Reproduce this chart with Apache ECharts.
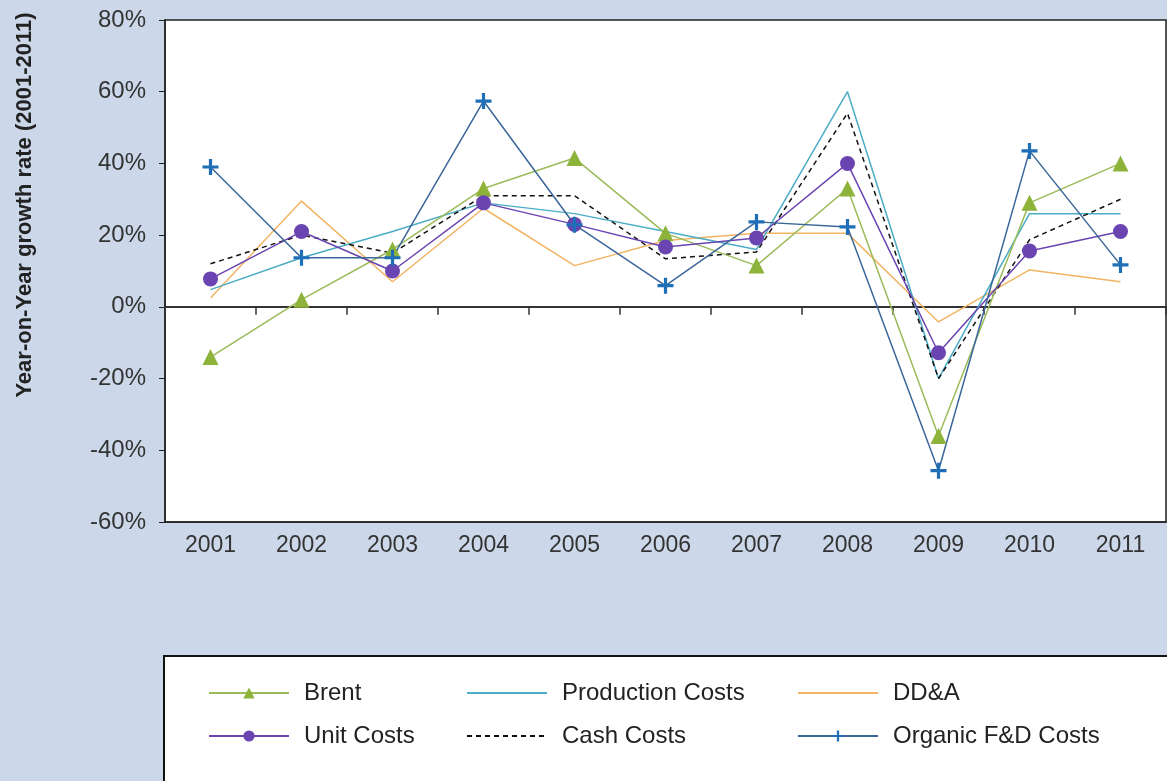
<!DOCTYPE html>
<html>
<head>
<meta charset="utf-8">
<style>
  html, body { margin: 0; padding: 0; background: #ccd8ea; }
  #chart { width: 1167px; height: 781px; }
</style>
<script src="https://cdn.jsdelivr.net/npm/echarts@6/dist/echarts.min.js"></script>
</head>
<body>
<div id="chart"></div>
<script>
const years = ['2001', '2002', '2003', '2004', '2005', '2006', '2007', '2008', '2009', '2010', '2011'];
const brent = [-14, 2, 16, 33, 41.5, 20.5, 11.5, 33, -36, 29, 40];
const productionCosts = [4.8, 13.7, 21, 29, 26, 21, 16, 60, -20, 26, 26];
const ddaCosts = [2.5, 29.5, 7, 27.5, 11.5, 18.5, 20.5, 20.5, -4.2, 10.3, 7];
const unitCosts = [7.8, 21, 10, 29, 23, 16.7, 19.2, 40, -12.8, 15.6, 21];
const cashCosts = [12, 20, 15, 31, 31, 13.4, 15.3, 54, -20, 18.7, 30];
const organicFD = [39, 13.7, 13.7, 57.4, 22.9, 5.9, 23.7, 22.3, -45.7, 43.5, 11.7];
const yTicks = { min: -60, max: 80, step: 20 };

const plusIcon = 'path://M4,0h2v4h4v2h-4v4h-2v-4h-4v-2h4z';
const font = '"Liberation Sans", Arial, sans-serif';

const chart = echarts.init(document.getElementById('chart'), null, { renderer: 'canvas' });

// line-only series get a legend entry without the marker
function legendItem(name, lineOnly) {
  return lineOnly ? { name: name, itemStyle: { opacity: 0 } } : { name: name };
}

function legendCol(left, items) {
  return {
    orient: 'vertical',
    left: left,
    top: 676,
    itemWidth: 80,
    itemHeight: 14,
    itemGap: 19,
    data: items,
    textStyle: { fontFamily: font, fontSize: 24, color: '#222', padding: [0, 0, 0, 10] }
  };
}

const option = {
  backgroundColor: '#ccd8ea',
  animation: false,
  grid: {
    left: 165,
    right: 1,
    top: 20,
    bottom: 259,
    show: true,
    backgroundColor: '#fff',
    borderColor: '#222',
    borderWidth: 1.5
  },
  legend: [
    legendCol(203, [legendItem('Brent'), legendItem('Unit Costs')]),
    legendCol(461, [legendItem('Production Costs', true), legendItem('Cash Costs', true)]),
    legendCol(792, [legendItem('DD&A', true), legendItem('Organic F&D Costs')])
  ],
  graphic: [{
    type: 'rect',
    left: 163,
    top: 655,
    shape: { width: 1010, height: 140 },
    style: { fill: '#fff', stroke: '#111', lineWidth: 2 },
    z: -1
  }, {
    type: 'text',
    x: 25,
    y: 205,
    rotation: Math.PI / 2,
    style: {
      text: 'Year-on-Year growth rate (2001-2011)',
      fontFamily: font,
      fontSize: 22,
      fontWeight: 'bold',
      fill: '#222',
      align: 'center',
      verticalAlign: 'middle'
    }
  }],
  xAxis: [{
    type: 'category',
    data: years,
    position: 'bottom',
    axisLine: { onZero: false, lineStyle: { color: '#222', width: 1.5 } },
    axisTick: { show: false },
    axisLabel: { fontFamily: font, fontSize: 23, color: '#333', margin: 12 }
  }, {
    type: 'category',
    data: years,
    position: 'bottom',
    axisLine: { onZero: true, lineStyle: { color: '#333', width: 2 } },
    axisTick: { show: true, length: 8, lineStyle: { color: '#333', width: 1.5 } },
    axisLabel: { show: false }
  }],
  yAxis: {
    type: 'value',
    min: yTicks.min,
    max: yTicks.max,
    interval: yTicks.step,
    axisLine: { show: true, lineStyle: { color: '#222', width: 1.5 } },
    axisTick: { show: true, length: 6, lineStyle: { color: '#222' } },
    splitLine: { show: false },
    axisLabel: { formatter: '{value}%', fontFamily: font, fontSize: 24, color: '#333', margin: 19 }
  },
  series: [{
    name: 'DD&A',
    type: 'line',
    data: ddaCosts,
    symbol: 'none',
    color: '#f2b463',
    lineStyle: { width: 1.5 }
  }, {
    name: 'Production Costs',
    type: 'line',
    data: productionCosts,
    symbol: 'none',
    color: '#4bacc6',
    lineStyle: { width: 1.5 }
  }, {
    name: 'Cash Costs',
    type: 'line',
    data: cashCosts,
    symbol: 'none',
    color: '#111',
    lineStyle: { width: 1.5, type: [5, 4] }
  }, {
    name: 'Brent',
    type: 'line',
    data: brent,
    symbol: 'triangle',
    symbolSize: 16,
    color: '#8db33a',
    lineStyle: { width: 1.5, color: '#9bbb59' }
  }, {
    name: 'Unit Costs',
    type: 'line',
    data: unitCosts,
    symbol: 'circle',
    symbolSize: 15,
    color: '#6a44b0',
    lineStyle: { width: 1.5 }
  }, {
    name: 'Organic F&D Costs',
    type: 'line',
    data: organicFD,
    symbol: plusIcon,
    symbolSize: 16,
    color: '#1f6fb8',
    lineStyle: { width: 1.5, color: '#3a6699' }
  }]
};

chart.setOption(option);
</script>
</body>
</html>
